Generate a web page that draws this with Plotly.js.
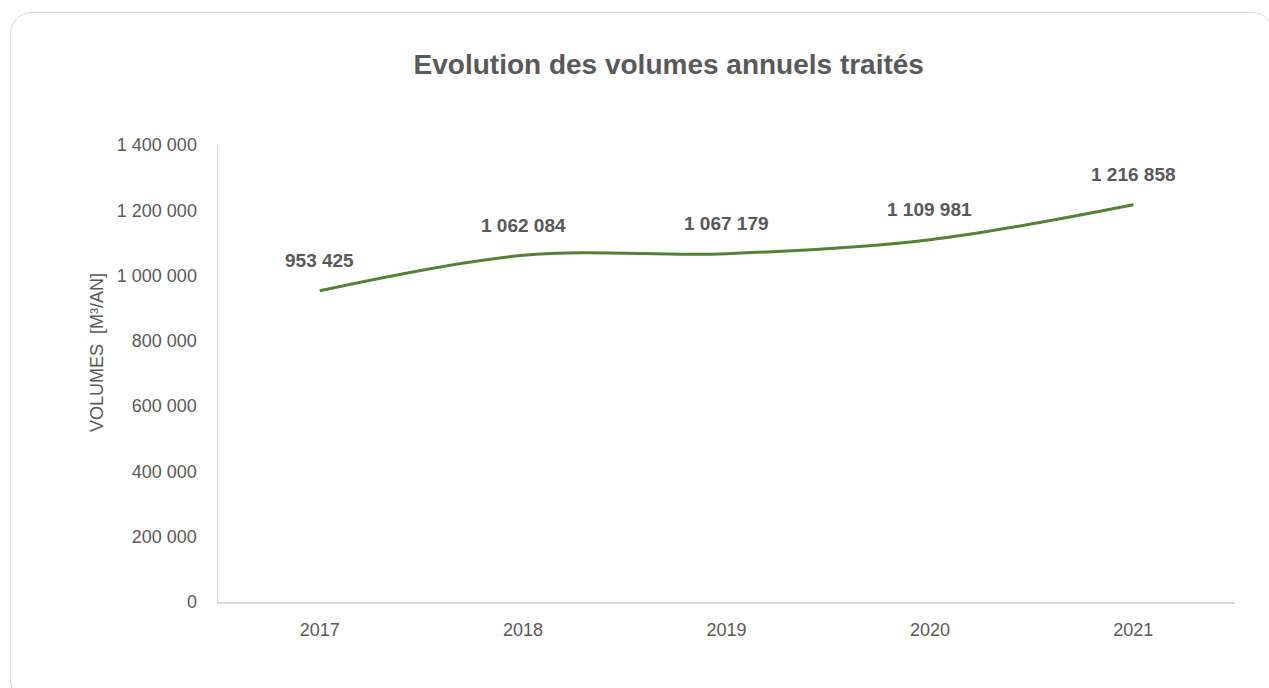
<!DOCTYPE html>
<html>
<head>
<meta charset="utf-8">
<script src="https://cdn.plot.ly/plotly-3.0.1.min.js"></script>
<style>
html,body{margin:0;padding:0;background:#fff;}
#wrap{position:relative;width:1269px;height:688px;overflow:hidden;}
#chart{position:absolute;left:0;top:0;width:1269px;height:688px;}
#frame{position:absolute;left:10px;top:12px;width:1264px;height:690px;border:1.5px solid #d9d9d9;border-radius:22px;box-sizing:border-box;pointer-events:none;}
</style>
</head>
<body>
<div id="wrap"><div id="chart"></div><div id="frame"></div></div>
<script>
const years = ['2017','2018','2019','2020','2021'];
const volumes = [953425, 1062084, 1067179, 1109981, 1216858];
const tickVals = [0,200000,400000,600000,800000,1000000,1200000,1400000];
const yTitle = 'VOLUMES  [M³/AN]';
const chartTitle = 'Evolution des volumes annuels traités';

function fmt(v){ return String(v).replace(/\B(?=(\d{3})+(?!\d))/g,' '); }

const FONT = '"Liberation Sans",Arial,sans-serif';
const GREY = '#595959';

const trace = {
  x: years, y: volumes, type:'scatter', mode:'lines',
  line:{color:'#548235', width:3, shape:'spline', smoothing:1},
  hoverinfo:'skip'
};

const annotations = years.map((yr,i)=>({
  x: i, y: volumes[i], xref:'x', yref:'y', text: '<b>' + fmt(volumes[i]) + '</b>',
  showarrow:false, yshift:30, xanchor:'center', yanchor:'middle',
  font:{family:FONT, size:19, color:GREY}
}));
annotations.push({
  xref:'paper', yref:'paper', x:(97-218)/1017, y:(602-353)/457,
  text: yTitle, textangle:-90, showarrow:false, xanchor:'center', yanchor:'middle',
  font:{family:FONT, size:18, color:GREY}
});

const layout = {
  width:1269, height:688,
  margin:{l:218, r:34, t:145, b:86},
  paper_bgcolor:'rgba(0,0,0,0)', plot_bgcolor:'rgba(0,0,0,0)',
  showlegend:false,
  title:{text:'<b>' + chartTitle + '</b>', x:0.527, xanchor:'center', y:0.907, yanchor:'middle',
    font:{family:FONT, size:28, color:GREY}},
  xaxis:{type:'category', range:[-0.5,4.5], showgrid:false, zeroline:false,
    showline:true, linecolor:'#d9d9d9', linewidth:1.5, ticks:'',
    tickfont:{family:FONT, size:18, color:GREY}, ticklabelstandoff:11},
  yaxis:{range:[0,1400000], tickvals:tickVals, ticktext:tickVals.map(fmt),
    showgrid:false, zeroline:false, showline:true, linecolor:'#d9d9d9', linewidth:1.5, ticks:'',
    tickfont:{family:FONT, size:18, color:GREY}, ticklabelstandoff:16},
  annotations: annotations
};

Plotly.newPlot('chart',[trace],layout,{displayModeBar:false, staticPlot:true});
</script>
</body>
</html>
